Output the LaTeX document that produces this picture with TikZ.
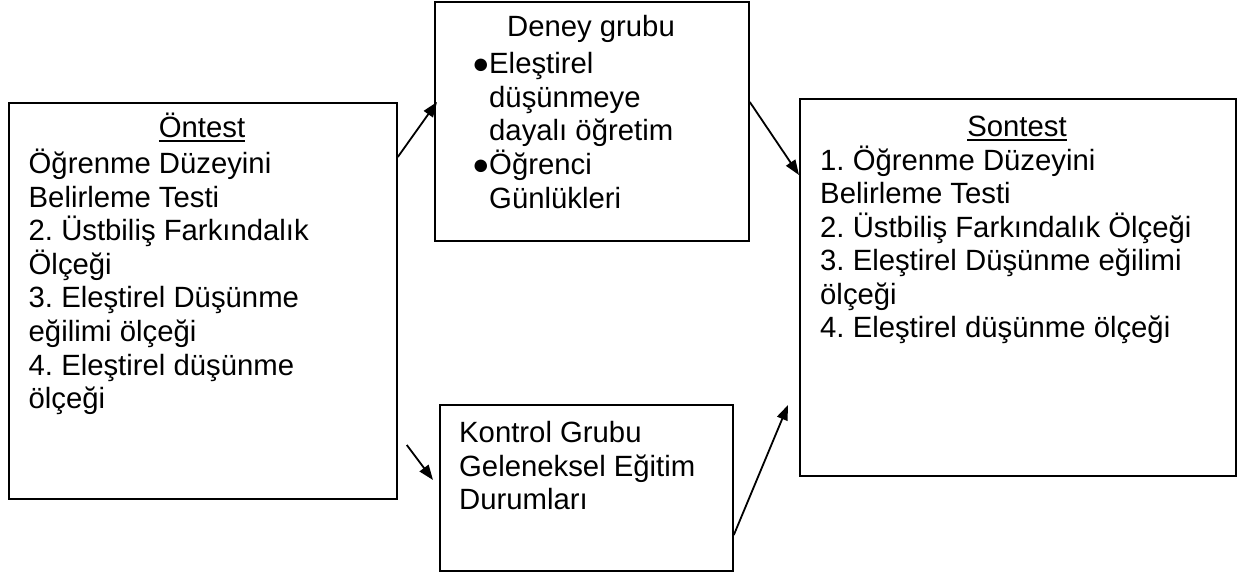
\documentclass[tikz,border=0pt]{standalone}
\usepackage{fontspec}
\setmainfont{Liberation Sans}
\usetikzlibrary{arrows.meta}
\frenchspacing
\newcommand\ulword[1]{\setbox0\hbox{#1}\rlap{\rule[-5pt]{\wd0}{2pt}}\box0}
\newcommand\fsz{\fontsize{29.3}{33.7}\selectfont\frenchspacing}
\newcommand\bulmark{\makebox[16pt][l]{\hspace{-1pt}{\fontsize{29}{29}\selectfont ●}}}
\begin{document}
\begin{tikzpicture}[x=1pt,y=-1pt,
  box/.style={draw, line width=1.8pt, rectangle, anchor=north west, inner sep=0pt},
  txt/.style={anchor=base west, inner sep=0pt, font=\fsz},
  head/.style={anchor=base, inner sep=0pt, font=\fsz},
  arr/.style={line width=1.8pt, -{Triangle[length=15pt,width=11pt]}}]
\useasboundingbox (0,0) rectangle (1248,573);
% boxes
\node[box, minimum width=388pt, minimum height=396pt] (on) at (8,102) {};
\node[box, minimum width=314pt, minimum height=239pt] (dg) at (434,1) {};
\node[box, minimum width=293pt, minimum height=166pt] (kg) at (439,404) {};
\node[box, minimum width=436pt, minimum height=377pt] (so) at (799,98) {};
% Ontest
\node[head] (onh) at (202,137) {\ulword{Öntest}};
\node[txt] (o1) at (28.5,173.4) {Öğrenme Düzeyini};
\node[txt] (o2) at (28.5,207) {Belirleme Testi};
\node[txt] (o3) at (28.5,240.6) {2. Üstbiliş Farkındalık};
\node[txt] (o4) at (28.5,274.2) {Ölçeği};
\node[txt] (o5) at (28.5,307.8) {3. Eleştirel Düşünme};
\node[txt] (o6) at (28.5,341.4) {eğilimi ölçeği};
\node[txt] (o7) at (28.5,375) {4. Eleştirel düşünme};
\node[txt] (o8) at (28.5,408.6) {ölçeği};
% Deney grubu
\node[head] (dgh) at (591,36.7) {Deney grubu};
\node[txt] (d1) at (473,73.3) {\bulmark Eleştirel};
\node[txt] (d2) at (489,107) {düşünmeye};
\node[txt] (d3) at (489,140.7) {dayalı öğretim};
\node[txt] (d4) at (473,174.4) {\bulmark Öğrenci};
\node[txt] (d5) at (489,208.1) {Günlükleri};
% Kontrol grubu
\node[txt] (k1) at (459,442.3) {Kontrol Grubu};
\node[txt] (k2) at (459,476) {Geleneksel Eğitim};
\node[txt] (k3) at (459,509.7) {Durumları};
% Sontest
\node[head] (soh) at (1017,136) {\ulword{Sontest}};
\node[txt] (s1) at (820,170.3) {1. Öğrenme Düzeyini};
\node[txt] (s2) at (820,203.8) {Belirleme Testi};
\node[txt] (s3) at (820,237.3) {2. Üstbiliş Farkındalık Ölçeği};
\node[txt] (s4) at (820,270.8) {3. Eleştirel Düşünme eğilimi};
\node[txt] (s5) at (820,304.3) {ölçeği};
\node[txt] (s6) at (820,337.8) {4. Eleştirel düşünme ölçeği};
% arrows
\draw[arr] ([yshift=-55pt]on.north east) -- ([xshift=3pt,yshift=-101pt]dg.north west);
\draw[arr] ([yshift=-101pt]dg.north east) -- ([yshift=-77pt]so.north west);
\draw[arr] ([xshift=9pt,yshift=-343pt]on.north east) -- ([xshift=-6pt,yshift=-76pt]kg.north west);
\draw[arr] ([yshift=-131pt]kg.north east) -- ([xshift=-11pt,yshift=-307pt]so.north west);
\end{tikzpicture}
\end{document}
